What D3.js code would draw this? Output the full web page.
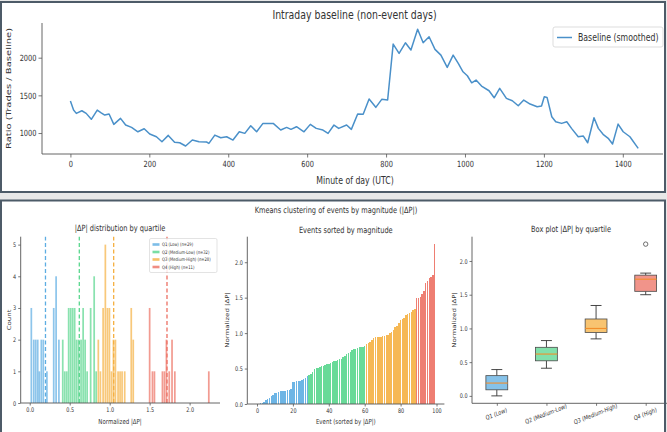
<!DOCTYPE html>
<html>
<head>
<meta charset="utf-8">
<script src="https://cdnjs.cloudflare.com/ajax/libs/d3/7.8.5/d3.min.js"></script>
<style>
  html, body { margin: 0; padding: 0; background: #e8e8e8; }
  svg { display: block; font-family: "DejaVu Sans", sans-serif; }
</style>
</head>
<body>
<svg id="chart" width="667" height="432"></svg>
<script>
// ---- top chart: intraday baseline ----
var minutes = [0, 8, 15, 29, 40, 53, 68, 78, 87, 98, 110, 127, 140, 155, 171, 187, 201, 218, 232, 248,
  264, 277, 292, 309, 326, 345, 351, 366, 381, 396, 412, 428, 442, 457, 472, 488, 501, 514, 533, 548,
  559, 573, 592, 608, 623, 640, 653, 668, 680, 700, 712, 728, 742, 757, 774, 789, 804, 818, 833, 849,
  863, 880, 894, 909, 924, 939, 955, 970, 983, 995, 1006, 1017, 1028, 1042, 1061, 1074, 1088, 1105, 1120, 1135,
  1149, 1165, 1183, 1194, 1201, 1208, 1220, 1230, 1245, 1258, 1270, 1287, 1300, 1311, 1327, 1338, 1350, 1363, 1374, 1388,
  1401, 1418, 1439];
var baseline = [1424, 1305, 1261, 1296, 1261, 1182, 1305, 1269, 1239, 1252, 1115, 1195, 1106, 1075, 1017, 1057, 987, 951, 885, 969,
  877, 871, 828, 907, 885, 881, 863, 973, 938, 951, 907, 1017, 996, 1097, 1017, 1128, 1128, 1128, 1040, 1075,
  1049, 1084, 1017, 1115, 1062, 1040, 996, 1106, 1062, 1106, 1049, 1252, 1248, 1451, 1341, 1447, 1438, 2180, 2057, 2197,
  2101, 2376, 2197, 2277, 2110, 2034, 1871, 2034, 1924, 1813, 1760, 1667, 1703, 1623, 1561, 1468, 1593, 1460, 1428, 1362,
  1438, 1385, 1349, 1358, 1481, 1473, 1216, 1150, 1128, 1150, 1062, 951, 960, 871, 1203, 1062, 983, 930, 854, 1119,
  1017, 951, 797];
var topXTicks = [0, 200, 400, 600, 800, 1000, 1200, 1400];
var topYTicks = [1000, 1500, 2000];

// ---- bottom charts: clusters ----
var clusterNames = ['Q1 (Low)', 'Q2 (Medium-Low)', 'Q3 (Medium-High)', 'Q4 (High)'];
var clusterSizes = [29, 32, 28, 11];
var clusterColors = ['#5DADE2', '#58D68D', '#F5B041', '#EC7063'];
var clusterMeans = [0.197, 0.62, 1.05, 1.717];

// histogram bins: [bin centre, count]
var binWidth = 0.0247;
var histQ1 = [[0.02, 3], [0.05, 2], [0.075, 2], [0.10, 2], [0.12, 1], [0.145, 2], [0.17, 2], [0.215, 1], [0.30, 3], [0.33, 4], [0.365, 2]];
var histQ2 = [[0.413, 2], [0.438, 1], [0.463, 1], [0.487, 3], [0.512, 3], [0.537, 3], [0.562, 3], [0.586, 2], [0.611, 2],
  [0.642, 2], [0.668, 3], [0.693, 2], [0.718, 1], [0.762, 3], [0.806, 4], [0.831, 1]];
var histQ3 = [[0.858, 2], [0.884, 1], [0.918, 3], [0.946, 5], [0.972, 3], [0.997, 3], [1.022, 1], [1.047, 2], [1.072, 2],
  [1.105, 1], [1.13, 1], [1.155, 1], [1.188, 1], [1.27, 3], [1.295, 2]];
var histQ4 = [[1.50, 3], [1.535, 1], [1.56, 1], [1.66, 1], [1.685, 1], [1.71, 2], [1.745, 1], [1.78, 2], [1.815, 1], [2.24, 1]];
var histData = [histQ1, histQ2, histQ3, histQ4];
var histXTicks = [0.0, 0.5, 1.0, 1.5, 2.0];
var histYTicks = [0, 1, 2, 3, 4, 5];

// events sorted by |dP| (normalized)
var sortedValues = [0.00, 0.00, 0.01, 0.02, 0.03, 0.05, 0.07, 0.09, 0.11, 0.13, 0.15, 0.16, 0.17, 0.18, 0.18, 0.19, 0.19, 0.20, 0.20, 0.21,
  0.31, 0.31, 0.32, 0.32, 0.33, 0.34, 0.35, 0.37, 0.39,
  0.41, 0.43, 0.45, 0.50, 0.51, 0.51, 0.52, 0.53, 0.54, 0.55, 0.56, 0.57, 0.58, 0.59, 0.60, 0.61, 0.62, 0.63, 0.64, 0.66,
  0.68, 0.70, 0.72, 0.74, 0.76, 0.77, 0.78, 0.79, 0.80, 0.80, 0.81, 0.82,
  0.85, 0.86, 0.88, 0.90, 0.93, 0.94, 0.95, 0.95, 0.95, 0.96, 0.96, 0.97, 0.98, 1.00, 1.02, 1.05, 1.08, 1.10, 1.14, 1.18,
  1.20, 1.22, 1.25, 1.27, 1.29, 1.30, 1.32, 1.34,
  1.50, 1.50, 1.51, 1.55, 1.60, 1.70, 1.73, 1.78, 1.79, 1.82, 2.25];
var sortedXTicks = [0, 20, 40, 60, 80, 100];
var normYTicks = [0.0, 0.5, 1.0, 1.5, 2.0];

// box plot stats
var boxLow = [0.00, 0.41, 0.845, 1.50];
var boxQ1 = [0.09, 0.52, 0.94, 1.55];
var boxMedian = [0.19, 0.62, 1.00, 1.73];
var boxQ3 = [0.30, 0.72, 1.14, 1.79];
var boxHigh = [0.39, 0.82, 1.34, 1.82];
var boxOutliers = [[], [], [], [2.25]];

////////////////////////////////////////////////////////////////////////////////////
var SX = 0.78;   // the picture is squeezed horizontally
var ink = '#333', spine = '#555', font = '"DejaVu Sans", sans-serif';
var svg = d3.select('#chart');

svg.append('rect').attr('x', 1).attr('y', 2).attr('width', 664).attr('height', 190).attr('fill', '#fff');
svg.append('rect').attr('x', 1).attr('y', 200.5).attr('width', 664).attr('height', 240).attr('fill', '#fff');

function label(x, y, str, size, rot, anchor) {
  return svg.append('text')
    .attr('transform', 'translate(' + x + ',' + y + ') scale(' + SX + ',1)' + (rot ? ' rotate(' + rot + ')' : ''))
    .attr('text-anchor', anchor || 'middle')
    .attr('font-size', size)
    .attr('font-family', font)
    .attr('fill', ink)
    .text(str);
}

function styleAxis(g, size, left) {
  g.select('.domain').remove();
  g.selectAll('.tick line').attr('stroke', spine).attr('stroke-width', 0.8);
  g.selectAll('.tick text')
    .attr('fill', ink).attr('font-size', size).attr('font-family', font)
    .each(function () {
      var t = d3.select(this);
      if (left) t.attr('x', +t.attr('x') / SX);
    })
    .attr('transform', 'scale(' + SX + ',1)');
}

function spines(x0, x1, y0, y1) {
  svg.append('line').attr('x1', x0).attr('x2', x0).attr('y1', y0).attr('y2', y1).attr('stroke', spine).attr('stroke-width', 0.9);
  svg.append('line').attr('x1', x0).attr('x2', x1).attr('y1', y0).attr('y2', y0).attr('stroke', spine).attr('stroke-width', 0.9);
}

// ---------------- top: intraday baseline ----------------
var xTop = d3.scaleLinear().domain([-72, 1512]).range([42, 667]);
var yTop = d3.scaleLinear().domain([722, 2460]).range([154, 23]);

var gx = svg.append('g').attr('transform', 'translate(0,154)')
  .call(d3.axisBottom(xTop).tickValues(topXTicks).tickSize(3.5).tickPadding(3).tickFormat(d3.format('d')));
styleAxis(gx, 8.5, false);
var gy = svg.append('g').attr('transform', 'translate(42,0)')
  .call(d3.axisLeft(yTop).tickValues(topYTicks).tickSize(3.5).tickPadding(2).tickFormat(d3.format('d')));
styleAxis(gy, 8.5, true);
spines(42, 663, 154, 23);

svg.append('path')
  .datum(d3.zip(minutes, baseline))
  .attr('fill', 'none')
  .attr('stroke', '#4a90c9')
  .attr('stroke-width', 1.5)
  .attr('stroke-linejoin', 'round')
  .attr('d', d3.line().x(function (d) { return xTop(d[0]); }).y(function (d) { return yTop(d[1]); }));

label(354.5, 19, 'Intraday baseline (non-event days)', 12);
label(355, 183.5, 'Minute of day (UTC)', 10);
label(11, 88.5, 'Ratio (Trades / Baseline)', 10, -90);

svg.append('rect').attr('x', 553).attr('y', 27).attr('width', 110).attr('height', 20).attr('rx', 2)
  .attr('fill', '#fff').attr('stroke', '#d4d4d4').attr('stroke-width', 0.8);
svg.append('line').attr('x1', 557).attr('x2', 572).attr('y1', 37.5).attr('y2', 37.5)
  .attr('stroke', '#4a90c9').attr('stroke-width', 1.5);
label(578, 41, 'Baseline (smoothed)', 10, 0, 'start');

// ---------------- bottom: suptitle ----------------
label(336, 213, 'Kmeans clustering of events by magnitude (|ΔP|)', 8.5);

// ---------------- histogram ----------------
var xH = d3.scaleLinear().domain([-0.113, 2.38]).range([20.7, 220]);
var yH = d3.scaleLinear().domain([0, 5.25]).range([403, 236.7]);

histData.forEach(function (bins, c) {
  svg.append('g').selectAll('rect').data(bins).enter().append('rect')
    .attr('x', function (d) { return xH(d[0] - binWidth / 2) + 0.12; })
    .attr('width', xH(binWidth) - xH(0) - 0.25)
    .attr('y', function (d) { return yH(d[1]); })
    .attr('height', function (d) { return yH(0) - yH(d[1]); })
    .attr('fill', clusterColors[c]).attr('fill-opacity', 0.7);
});
clusterMeans.forEach(function (m, c) {
  svg.append('line').attr('x1', xH(m)).attr('x2', xH(m)).attr('y1', yH(0)).attr('y2', yH(5.25))
    .attr('stroke', clusterColors[c]).attr('stroke-width', 1.3).attr('stroke-dasharray', '4,2.5');
});

var ghx = svg.append('g').attr('transform', 'translate(0,403)')
  .call(d3.axisBottom(xH).tickValues(histXTicks).tickSize(2.5).tickPadding(2).tickFormat(d3.format('.1f')));
styleAxis(ghx, 6.3, false);
var ghy = svg.append('g').attr('transform', 'translate(20.7,0)')
  .call(d3.axisLeft(yH).tickValues(histYTicks).tickSize(2.5).tickPadding(2).tickFormat(d3.format('d')));
styleAxis(ghy, 6.3, true);
spines(20.7, 220, 403, 236.7);

label(120, 231, '|ΔP| distribution by quartile', 8.5);
label(120, 424, 'Normalized |ΔP|', 7);
label(11, 320, 'Count', 7, -90);

svg.append('rect').attr('x', 149.5).attr('y', 238.5).attr('width', 67.5).attr('height', 34).attr('rx', 1.5)
  .attr('fill', '#fff').attr('fill-opacity', 0.85).attr('stroke', '#d0d0d0').attr('stroke-width', 0.6);
clusterNames.forEach(function (n, c) {
  var ly = 244.5 + c * 7.5;
  svg.append('rect').attr('x', 152.5).attr('y', ly - 1.3).attr('width', 7).attr('height', 2.6)
    .attr('fill', clusterColors[c]).attr('fill-opacity', 0.8);
  label(162, ly + 1.7, n + ' (n=' + clusterSizes[c] + ')', 4.8, 0, 'start');
});

// ---------------- events sorted by magnitude ----------------
var xM = d3.scaleLinear().domain([-5.4, 104.4]).range([247.3, 444.4]);
var yM = d3.scaleLinear().domain([0, 2.36]).range([404, 236.7]);
var bounds = d3.cumsum(clusterSizes);
function clusterOf(i) { return d3.bisectRight(Array.from(bounds), i); }

svg.append('g').attr('shape-rendering', 'crispEdges').selectAll('rect').data(sortedValues).enter().append('rect')
  .attr('x', function (d, i) { return xM(i - 0.4); })
  .attr('width', xM(0.8) - xM(0))
  .attr('y', function (d) { return yM(d); })
  .attr('height', function (d) { return yM(0) - yM(d); })
  .attr('fill', function (d, i) { return clusterColors[clusterOf(i)]; })
  .attr('fill-opacity', 0.9);

var gmx = svg.append('g').attr('transform', 'translate(0,404)')
  .call(d3.axisBottom(xM).tickValues(sortedXTicks).tickSize(2.5).tickPadding(2).tickFormat(d3.format('d')));
styleAxis(gmx, 6.3, false);
var gmy = svg.append('g').attr('transform', 'translate(247.3,0)')
  .call(d3.axisLeft(yM).tickValues(normYTicks).tickSize(2.5).tickPadding(2).tickFormat(d3.format('.1f')));
styleAxis(gmy, 6.3, true);
spines(247.3, 444.4, 404, 236.7);

label(345.8, 233, 'Events sorted by magnitude', 8.5);
label(345.8, 424, 'Event (sorted by |ΔP|)', 7);
label(229, 320, 'Normalized |ΔP|', 7, -90);

// ---------------- box plot ----------------
var xB = d3.scaleLinear().domain([0.5, 4.5]).range([472, 670.5]);
var yB = d3.scaleLinear().domain([-0.11, 2.36]).range([403.3, 236.7]);
var boxW = xB(0.44) - xB(0), capW = xB(0.22) - xB(0);

clusterNames.forEach(function (n, c) {
  var cx = xB(c + 1);
  var g = svg.append('g');
  g.append('line').attr('x1', cx).attr('x2', cx).attr('y1', yB(boxLow[c])).attr('y2', yB(boxQ1[c]))
    .attr('stroke', ink).attr('stroke-width', 0.9);
  g.append('line').attr('x1', cx).attr('x2', cx).attr('y1', yB(boxQ3[c])).attr('y2', yB(boxHigh[c]))
    .attr('stroke', ink).attr('stroke-width', 0.9);
  [boxLow[c], boxHigh[c]].forEach(function (v) {
    g.append('line').attr('x1', cx - capW / 2).attr('x2', cx + capW / 2).attr('y1', yB(v)).attr('y2', yB(v))
      .attr('stroke', ink).attr('stroke-width', 0.9);
  });
  g.append('rect').attr('x', cx - boxW / 2).attr('width', boxW)
    .attr('y', yB(boxQ3[c])).attr('height', yB(boxQ1[c]) - yB(boxQ3[c]))
    .attr('fill', clusterColors[c]).attr('fill-opacity', 0.75).attr('stroke', '#4a4a4a').attr('stroke-width', 0.8);
  g.append('line').attr('x1', cx - boxW / 2).attr('x2', cx + boxW / 2)
    .attr('y1', yB(boxMedian[c])).attr('y2', yB(boxMedian[c]))
    .attr('stroke', '#f28e2b').attr('stroke-width', 1.1);
  g.selectAll('circle').data(boxOutliers[c]).enter().append('circle')
    .attr('cx', cx).attr('cy', function (d) { return yB(d); }).attr('r', 2.2)
    .attr('fill', 'none').attr('stroke', ink).attr('stroke-width', 0.7);
});

var gbx = svg.append('g').attr('transform', 'translate(0,403.3)')
  .call(d3.axisBottom(xB).tickValues([1, 2, 3, 4]).tickSize(2.5).tickFormat(''));
styleAxis(gbx, 6.3, false);
var gby = svg.append('g').attr('transform', 'translate(472,0)')
  .call(d3.axisLeft(yB).tickValues(normYTicks).tickSize(2.5).tickPadding(2).tickFormat(d3.format('.1f')));
styleAxis(gby, 6.3, true);
spines(472, 667, 403.3, 236.7);
clusterNames.forEach(function (n, c) {
  label(xB(c + 1), 416, n, 6.3, -17);
});

label(571, 232, 'Box plot |ΔP| by quartile', 8.5);
label(455.5, 320, 'Normalized |ΔP|', 7, -90);

// panel frames on top
svg.append('rect').attr('x', 1).attr('y', 2).attr('width', 664).attr('height', 190)
  .attr('fill', 'none').attr('stroke', '#4d5b68').attr('stroke-width', 2);
svg.append('rect').attr('x', 1).attr('y', 200.5).attr('width', 664).attr('height', 240)
  .attr('fill', 'none').attr('stroke', '#4d5b68').attr('stroke-width', 2);
</script>
</body>
</html>
